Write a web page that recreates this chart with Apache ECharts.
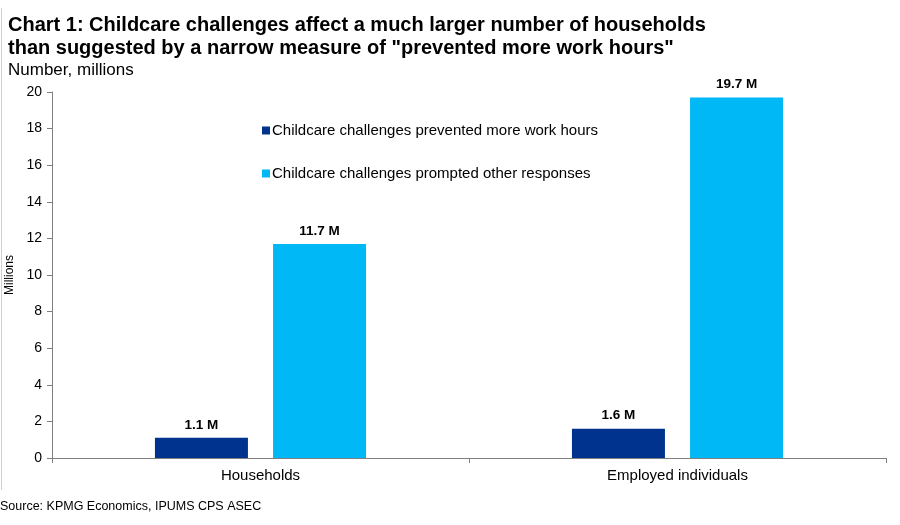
<!DOCTYPE html>
<html>
<head>
<meta charset="utf-8">
<script src="https://cdn.jsdelivr.net/npm/echarts@6/dist/echarts.min.js"></script>
<style>
  html, body { margin: 0; padding: 0; background: #fff; }
  #chart { width: 900px; height: 525px; }
</style>
</head>
<body>
<div id="chart"></div>
<script>
var categories = ['Households', 'Employed individuals'];
var preventedHours = [1.1, 1.6];
var otherResponses = [11.7, 19.7];
var seriesNames = ['Childcare challenges prevented more work hours', 'Childcare challenges prompted other responses'];

var myChart = echarts.init(document.getElementById('chart'));

var labelStyle = {
  show: true,
  position: 'top',
  distance: 6,
  fontFamily: 'Liberation Sans, Arial',
  fontWeight: 'bold',
  fontSize: 13.5,
  color: '#000',
  formatter: function (p) { return p.value.toFixed(1) + ' M'; }
};

var option = {
  animation: false,
  textStyle: { fontFamily: 'Liberation Sans, Arial' },
  title: [
    {
      text: 'Chart 1: Childcare challenges affect a much larger number of households\nthan suggested by a narrow measure of "prevented more work hours"',
      left: 8,
      top: 14,
      padding: 0,
      textStyle: { fontSize: 20, fontWeight: 'bold', color: '#000', lineHeight: 23 }
    },
    {
      text: 'Number, millions',
      left: 8,
      top: 62,
      padding: 0,
      textStyle: { fontSize: 17, fontWeight: 'normal', color: '#000' }
    },
    {
      text: 'Source: KPMG Economics, IPUMS CPS ASEC',
      left: 0,
      top: 500,
      padding: 0,
      textStyle: { fontSize: 12.5, fontWeight: 'normal', color: '#000' }
    }
  ],
  legend: {
    orient: 'vertical',
    left: 262,
    top: 123,
    padding: 0,
    itemGap: 28,
    itemWidth: 8,
    itemHeight: 8,
    icon: 'rect',
    data: seriesNames,
    textStyle: { fontSize: 15, color: '#000', padding: [0, 0, 0, -3] }
  },
  grid: {
    left: 52,
    right: 14,
    top: 92,
    bottom: 67,
    outerBoundsMode: 'none'
  },
  xAxis: {
    type: 'category',
    data: categories,
    axisLine: { lineStyle: { color: '#808080', width: 1 } },
    axisTick: { show: true, alignWithLabel: false, length: 5, lineStyle: { color: '#808080' } },
    axisLabel: { fontSize: 15, color: '#000', margin: 10 }
  },
  yAxis: {
    type: 'value',
    min: 0,
    max: 20,
    interval: 2,
    name: 'Millions',
    nameLocation: 'middle',
    nameRotate: 90,
    nameGap: 28,
    nameTextStyle: { fontSize: 12, color: '#000' },
    axisLine: { show: true, lineStyle: { color: '#808080', width: 1 } },
    axisTick: { show: true, inside: false, length: 5, lineStyle: { color: '#808080' } },
    axisLabel: { fontSize: 14, color: '#000', margin: 10 },
    splitLine: { show: false }
  },
  graphic: [
    {
      type: 'line',
      shape: { x1: 1.5, y1: 8, x2: 1.5, y2: 490 },
      style: { stroke: '#d0d0d0', lineWidth: 1 }
    }
  ],
  series: [
    {
      name: seriesNames[0],
      type: 'bar',
      data: preventedHours,
      barWidth: 93,
      barGap: '27%',
      itemStyle: { color: '#00338D' },
      label: labelStyle
    },
    {
      name: seriesNames[1],
      type: 'bar',
      data: otherResponses,
      barWidth: 93,
      itemStyle: { color: '#00B8F5' },
      label: labelStyle
    }
  ]
};

myChart.setOption(option);
</script>
</body>
</html>
